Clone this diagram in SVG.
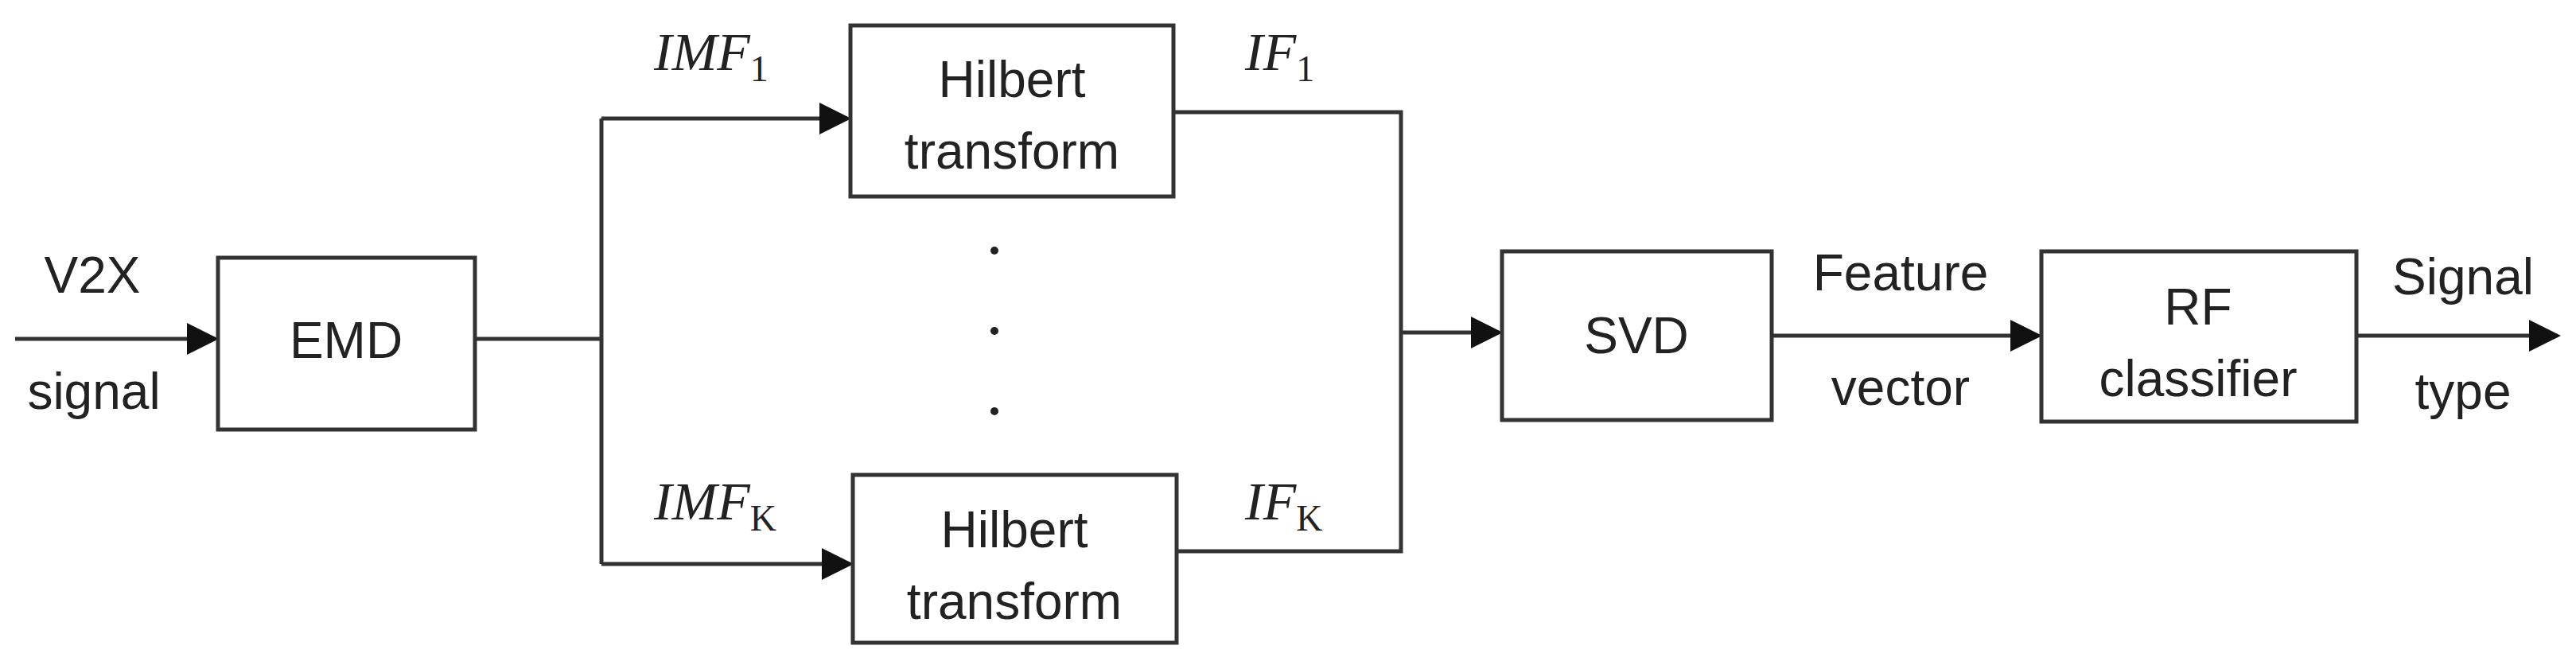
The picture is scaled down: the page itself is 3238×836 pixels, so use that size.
<svg xmlns="http://www.w3.org/2000/svg" width="3238" height="836" viewBox="0 0 3238 836">
<style>
.box{fill:#fff;stroke:#333;stroke-width:5}
.t{font-family:"Liberation Sans",Arial,sans-serif;font-size:64px;fill:#222;text-anchor:middle}
.m{font-family:"Liberation Serif","Times New Roman",serif;font-style:italic;font-size:68px;fill:#222}
.s{font-style:normal;font-size:46px}
.c{fill:none;stroke:#333;stroke-width:5}
</style>
<defs>
<marker id="a" markerWidth="8" markerHeight="8" refX="7" refY="4" orient="auto" markerUnits="strokeWidth">
<path d="M0,0 L8,4 L0,8 z" fill="#111"/>
</marker>
</defs>
<g id="connectors">
<path class="c" d="M19,426 H270" marker-end="url(#a)"/>
<path class="c" d="M597,426 H756"/>
<path class="c" d="M756,149 V709"/>
<path class="c" d="M756,149 H1065" marker-end="url(#a)"/>
<path class="c" d="M756,709 H1068" marker-end="url(#a)"/>
<path class="c" d="M1475,141 H1761 V693 H1479"/>
<path class="c" d="M1761,418 H1884" marker-end="url(#a)"/>
<path class="c" d="M2227,422 H2562" marker-end="url(#a)"/>
<path class="c" d="M2962,422 H3214" marker-end="url(#a)"/>
</g>
<g id="labels">
<text class="t" x="116" y="368">V2X</text>
<text class="t" x="118" y="514">signal</text>
<text class="m" x="822" y="88">IMF<tspan class="s" dy="14">1</tspan></text>
<text class="m" x="822" y="653">IMF<tspan class="s" dy="14">K</tspan></text>
<text class="m" x="1565" y="88">IF<tspan class="s" dy="14">1</tspan></text>
<text class="m" x="1565" y="653">IF<tspan class="s" dy="14">K</tspan></text>
<text class="t" x="2389" y="365">Feature</text>
<text class="t" x="2389" y="509">vector</text>
<text class="t" x="3096" y="370">Signal</text>
<text class="t" x="3096" y="514">type</text>
<circle cx="1250" cy="315" r="5" fill="#222"/>
<circle cx="1250" cy="416" r="5" fill="#222"/>
<circle cx="1250" cy="517" r="5" fill="#222"/>
</g>
<g id="emd"><rect class="box" x="274" y="324" width="323" height="216"/><text class="t" x="435" y="450">EMD</text></g>
<g id="hilbert1"><rect class="box" x="1069" y="32" width="406" height="215"/><text class="t" x="1272" y="122">Hilbert</text><text class="t" x="1272" y="212">transform</text></g>
<g id="hilbertK"><rect class="box" x="1072" y="597" width="407" height="211"/><text class="t" x="1275" y="688">Hilbert</text><text class="t" x="1275" y="778">transform</text></g>
<g id="svd"><rect class="box" x="1888" y="316" width="339" height="212"/><text class="t" x="2057" y="444">SVD</text></g>
<g id="rf"><rect class="box" x="2566" y="316" width="396" height="214"/><text class="t" x="2763" y="408">RF</text><text class="t" x="2763" y="498">classifier</text></g>
</svg>
